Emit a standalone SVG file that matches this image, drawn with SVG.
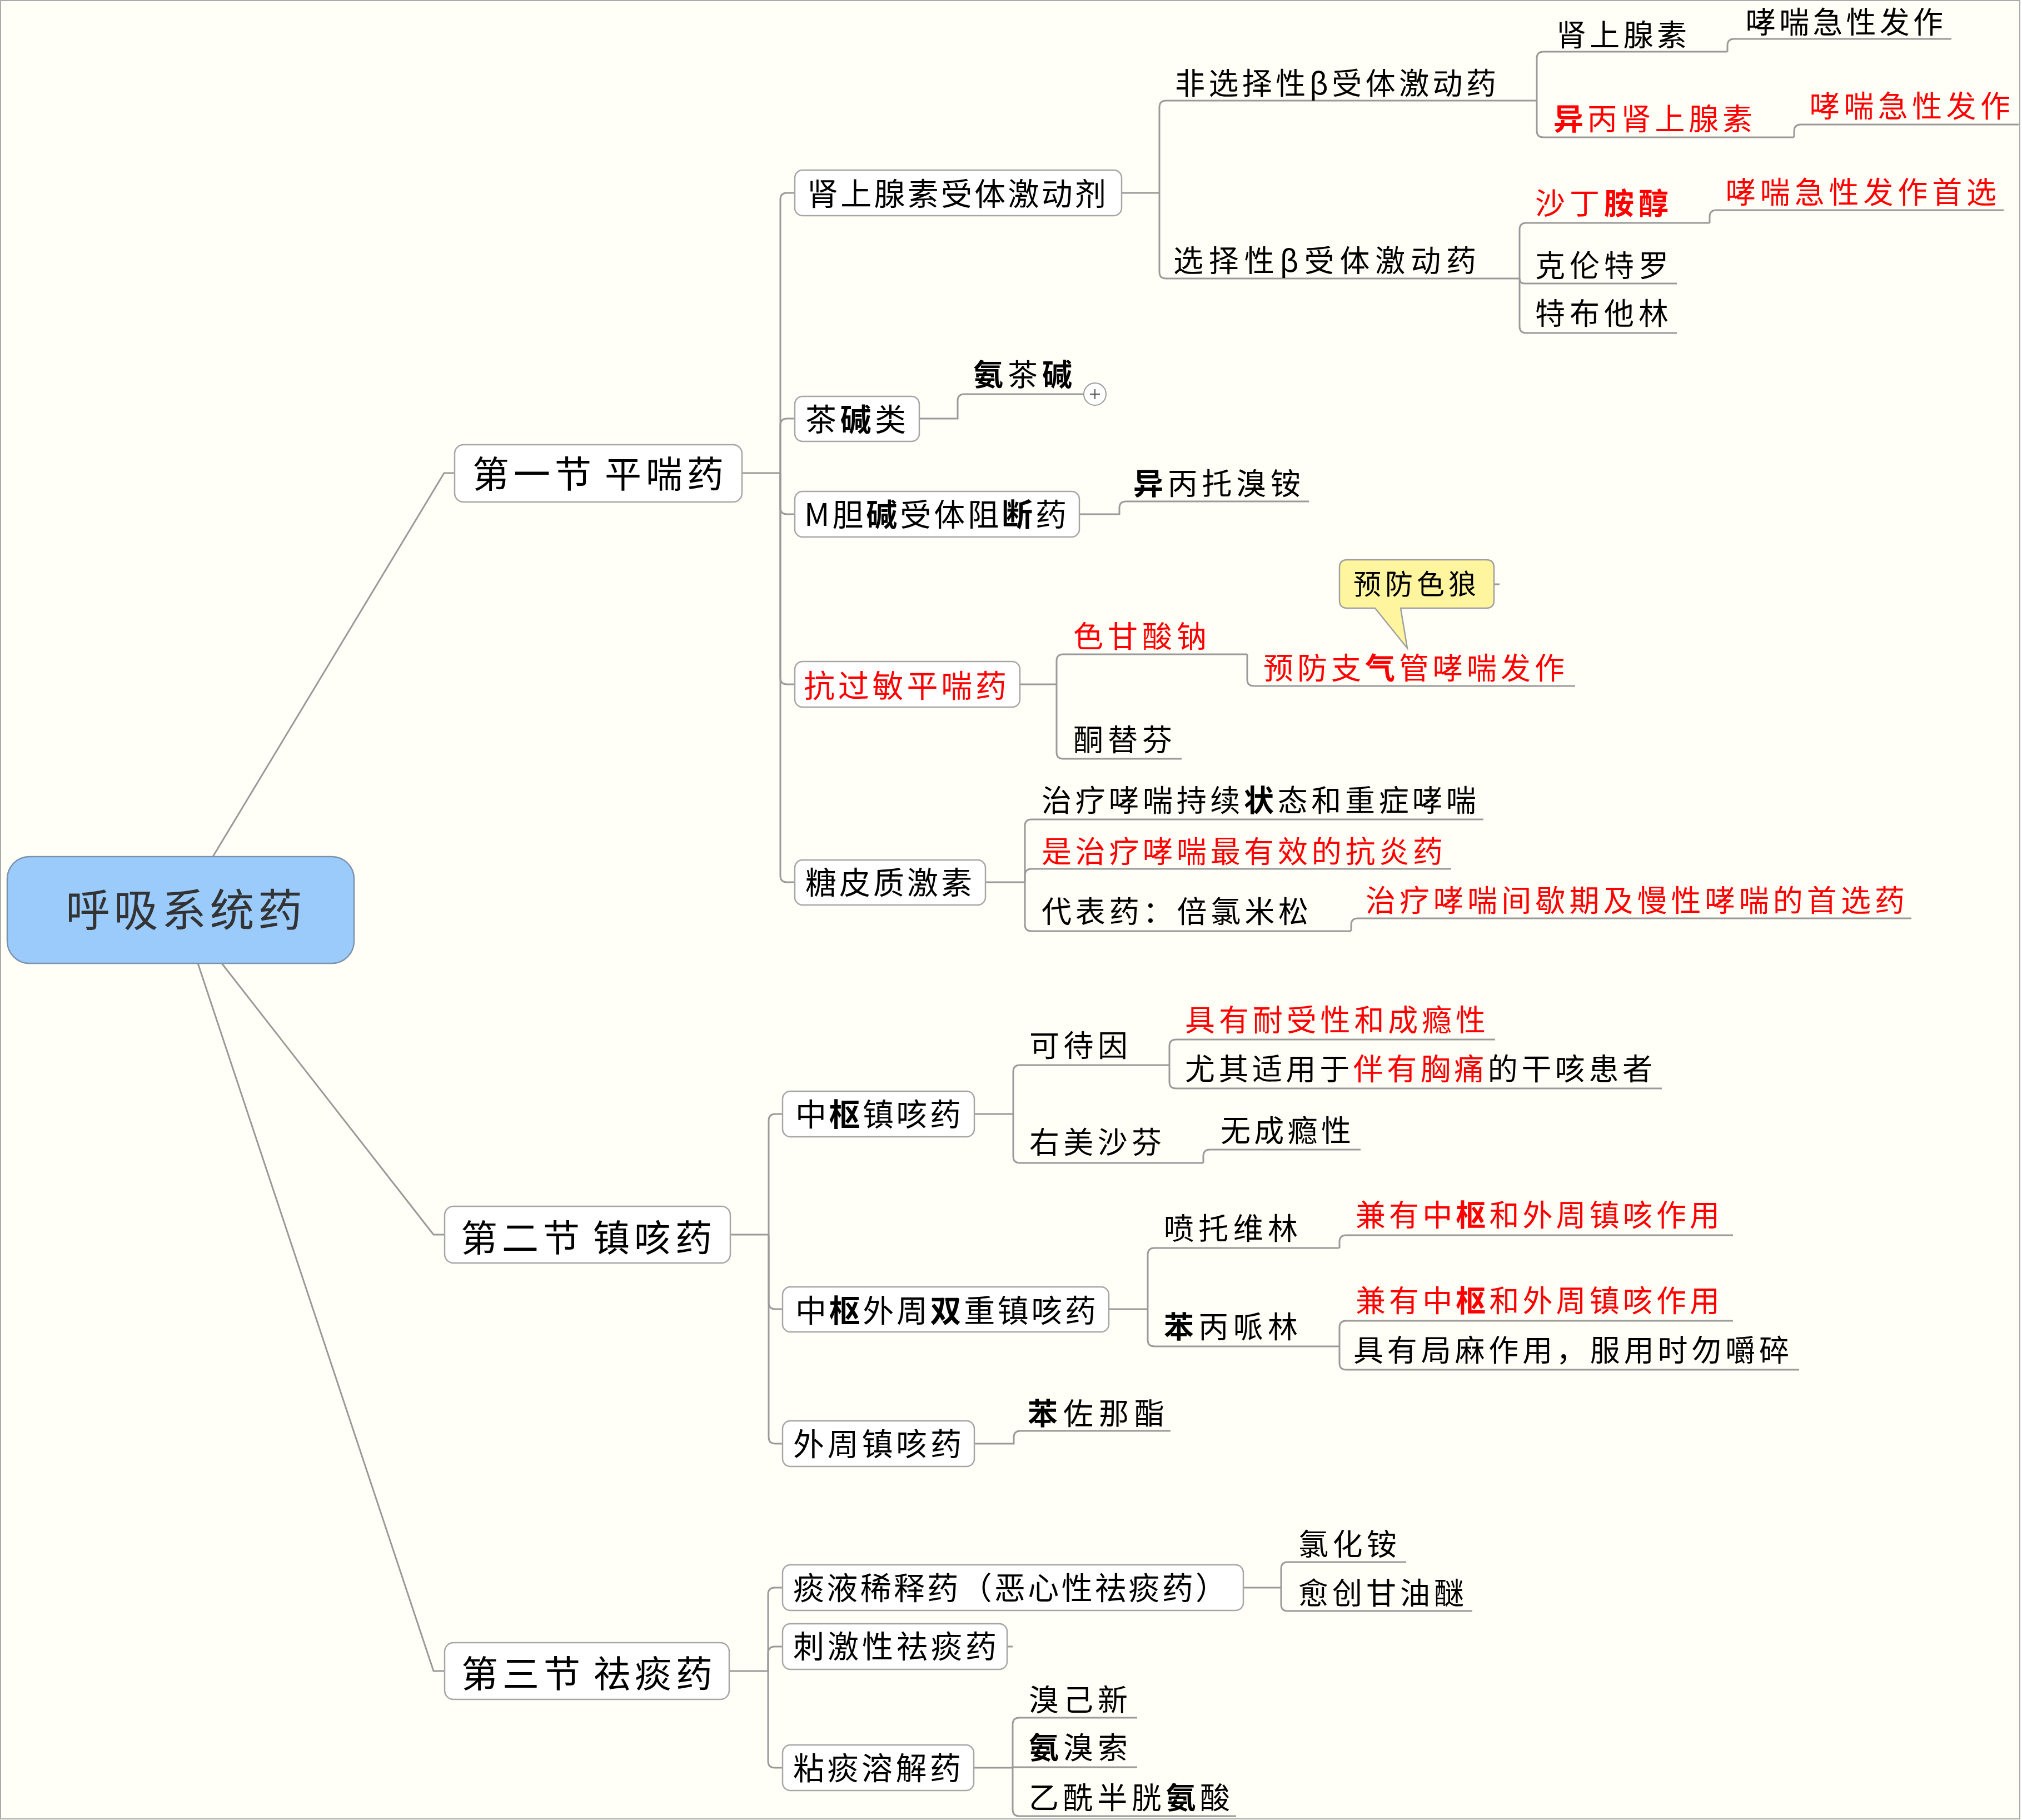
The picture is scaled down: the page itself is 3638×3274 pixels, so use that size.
<svg xmlns="http://www.w3.org/2000/svg" width="3638" height="3274" viewBox="0 0 3638 3274">
<style>
text{font-family:"Noto Sans CJK SC","Liberation Sans",sans-serif;fill:#000}
.s0{font-size:80px;fill:#333}
.s1{font-size:66px;letter-spacing:8px}
.s2{font-size:56px}
.s3{font-size:54px}
.r{fill:#f00}
.b{font-weight:700}
.box{fill:#fff;stroke:#a6a6a6;stroke-width:2.5}
.con path{fill:none;stroke:#9a9a9a;stroke-width:3}
</style>
<rect x="0" y="0" width="3638" height="3274" fill="#fff"/>
<rect x="1" y="1" width="3633" height="3271" fill="#fffef7" stroke="#aaa" stroke-width="2"/>

<g id="connectors" class="con">
<path d="M383,1541 L799,851 H818"/>
<path d="M399,1733 L780,2221 H800"/>
<path d="M356,1733 L780,3006 H800"/>
<path d="M1335,851 H1404"/>
<path d="M1404,851 V359 Q1404,347 1416,347 H1430"/>
<path d="M1404,851 V765 Q1404,753 1416,753 H1430"/>
<path d="M1404,851 V913 Q1404,925 1416,925 H1430"/>
<path d="M1404,851 V1219 Q1404,1231 1416,1231 H1430"/>
<path d="M1404,851 V1575 Q1404,1587 1416,1587 H1430"/>
<path d="M2018,347 H2086"/>
<path d="M2086,347 V193 Q2086,181 2098,181 H2765"/>
<path d="M2086,347 V489 Q2086,501 2098,501 H2734"/>
<path d="M2765,181 V105 Q2765,93 2777,93 H3108"/>
<path d="M2765,181 V235 Q2765,247 2777,247 H3228"/>
<path d="M3108,93 V82 Q3108,70 3120,70 H3511"/>
<path d="M3228,247 V236 Q3228,224 3240,224 H3632"/>
<path d="M2734,501 V413 Q2734,401 2746,401 H3076"/>
<path d="M2734,501 Q2734,510 2743,510 H3017"/>
<path d="M2734,501 V587 Q2734,599 2746,599 H3017"/>
<path d="M3076,401 V390 Q3076,378 3088,378 H3605"/>
<path d="M1654,753 H1723 V721 Q1723,709 1735,709 H1949"/>
<path d="M1942,925 H2014 V914 Q2014,902 2026,902 H2355"/>
<path d="M1835,1231 H1901"/>
<path d="M1901,1231 V1189 Q1901,1177 1913,1177 H2244"/>
<path d="M1901,1231 V1353 Q1901,1365 1913,1365 H2126"/>
<path d="M2244,1177 V1222 Q2244,1234 2256,1234 H2834"/>
<path d="M1773,1587 H1844"/>
<path d="M1844,1587 V1486 Q1844,1474 1856,1474 H2669"/>
<path d="M1844,1587 V1575 Q1844,1563 1856,1563 H2611"/>
<path d="M1844,1587 V1663 Q1844,1675 1856,1675 H2431"/>
<path d="M2431,1675 V1664 Q2431,1652 2443,1652 H3439"/>
<path d="M1314,2221 H1383"/>
<path d="M1383,2221 V2016 Q1383,2004 1395,2004 H1408"/>
<path d="M1383,2221 V2343 Q1383,2355 1395,2355 H1408"/>
<path d="M1383,2221 V2585 Q1383,2597 1395,2597 H1408"/>
<path d="M1753,2004 H1823"/>
<path d="M1823,2004 V1928 Q1823,1916 1835,1916 H2104"/>
<path d="M1823,2004 V2080 Q1823,2092 1835,2092 H2165"/>
<path d="M2104,1916 V1882 Q2104,1870 2116,1870 H2690"/>
<path d="M2104,1916 V1946 Q2104,1958 2116,1958 H2990"/>
<path d="M2165,2092 V2080 Q2165,2068 2177,2068 H2448"/>
<path d="M1995,2355 H2065"/>
<path d="M2065,2355 V2257 Q2065,2245 2077,2245 H2410"/>
<path d="M2065,2355 V2410 Q2065,2422 2077,2422 H2410"/>
<path d="M2410,2245 V2234 Q2410,2222 2422,2222 H3118"/>
<path d="M2410,2422 V2388 Q2410,2376 2422,2376 H3118"/>
<path d="M2410,2422 V2452 Q2410,2464 2422,2464 H3237"/>
<path d="M1753,2597 H1824 V2586 Q1824,2574 1836,2574 H2106"/>
<path d="M1312,3006 H1382"/>
<path d="M1382,3006 V2868 Q1382,2856 1394,2856 H1408"/>
<path d="M1382,3006 V2974 Q1382,2962 1394,2962 H1408"/>
<path d="M1382,3006 V3168 Q1382,3180 1394,3180 H1408"/>
<path d="M1812,2962 H1822"/>
<path d="M2237,2856 H2305"/>
<path d="M2305,2856 V2822 Q2305,2810 2317,2810 H2530"/>
<path d="M2305,2856 V2886 Q2305,2898 2317,2898 H2649"/>
<path d="M1752,3180 H1822"/>
<path d="M1822,3180 V3102 Q1822,3090 1834,3090 H2046"/>
<path d="M1822,3180 V3179 H2046"/>
<path d="M1822,3180 V3255 Q1822,3267 1834,3267 H2224"/>
<path d="M2688,1051 H2698"/>
</g>

<g id="n0"><rect x="13" y="1541" width="624" height="192" rx="40" fill="#9acbfb" stroke="#7d93ad" stroke-width="2.5"/><text class="s0" x="118" y="1666" textLength="426" lengthAdjust="spacing">呼吸系统药</text></g>

<g id="n1"><rect class="box" x="818" y="800" width="517" height="103" rx="16"/><text class="s1" x="850" y="877">第一节<tspan dx="16">平喘药</tspan></text></g>
<g id="n2"><rect class="box" x="800" y="2170" width="514" height="102" rx="16"/><text class="s1" x="829" y="2251">第二节<tspan dx="16">镇咳药</tspan></text></g>
<g id="n3"><rect class="box" x="800" y="2955" width="512" height="102" rx="16"/><text class="s1" x="830" y="3035">第三节<tspan dx="16">祛痰药</tspan></text></g>

<g id="n1a"><rect class="box" x="1430" y="306" width="588" height="82" rx="14"/><text class="s2" x="1452" y="369" textLength="538" lengthAdjust="spacing">肾上腺素受体激动剂</text></g>
<g id="n1a1"><text class="s3" x="2114" y="170" textLength="578" lengthAdjust="spacing">非选择性β受体激动药</text></g>
<g id="n1a1a"><text class="s3" x="2800" y="83" textLength="235" lengthAdjust="spacing">肾上腺素</text></g>
<g id="n1a1a1"><text class="s3" x="3141" y="60" textLength="355" lengthAdjust="spacing">哮喘急性发作</text></g>
<g id="n1a1b"><text class="s3 r" x="2795" y="234" textLength="358" lengthAdjust="spacing"><tspan class="b r">异</tspan>丙肾上腺素</text></g>
<g id="n1a1b1"><text class="s3 r" x="3256" y="211" textLength="361" lengthAdjust="spacing">哮喘急性发作</text></g>
<g id="n1a2"><text class="s3" x="2111" y="489" textLength="545" lengthAdjust="spacing">选择性β受体激动药</text></g>
<g id="n1a2a"><text class="s3 r" x="2762" y="386" textLength="240" lengthAdjust="spacing">沙丁<tspan class="b r">胺醇</tspan></text></g>
<g id="n1a2a1"><text class="s3 r" x="3105" y="366" textLength="487" lengthAdjust="spacing">哮喘急性发作首选</text></g>
<g id="n1a2b"><text class="s3" x="2762" y="498" textLength="240" lengthAdjust="spacing">克伦特罗</text></g>
<g id="n1a2c"><text class="s3" x="2762" y="584" textLength="240" lengthAdjust="spacing">特布他林</text></g>

<g id="n1b"><rect class="box" x="1430" y="713" width="224" height="81" rx="14"/><text class="s2" x="1449" y="775" textLength="181" lengthAdjust="spacing">茶<tspan class="b">碱</tspan>类</text></g>
<g id="n1b1"><text class="s3" x="1751" y="694" textLength="178" lengthAdjust="spacing"><tspan class="b">氨</tspan>茶<tspan class="b">碱</tspan></text>
<circle cx="1970" cy="709" r="20" fill="#fff" stroke="#999" stroke-width="2"/><path d="M1961,709 H1979 M1970,700 V718" stroke="#555" stroke-width="2"/></g>

<g id="n1c"><rect class="box" x="1430" y="884" width="512" height="82" rx="14"/><text class="s2" x="1447" y="946" textLength="472" lengthAdjust="spacing">M胆<tspan class="b">碱</tspan>受体阻<tspan class="b">断</tspan>药</text></g>
<g id="n1c1"><text class="s3" x="2039" y="890" textLength="301" lengthAdjust="spacing"><tspan class="b">异</tspan>丙托溴铵</text></g>

<g id="n1d"><rect class="box" x="1430" y="1190" width="405" height="82" rx="14"/><text class="s2 r" x="1446" y="1254" textLength="365" lengthAdjust="spacing">抗过敏平喘药</text></g>
<g id="n1d1"><text class="s3 r" x="1931" y="1165" textLength="240" lengthAdjust="spacing">色甘酸钠</text></g>
<g id="n1d1a"><text class="s3 r" x="2273" y="1222" textLength="542" lengthAdjust="spacing">预防支<tspan class="b r">气</tspan>管哮喘发作</text></g>
<g id="callout"><path d="M2424,1007 H2674 Q2688,1007 2688,1021 V1080 Q2688,1094 2674,1094 H2520 L2532,1166 L2474,1094 H2424 Q2410,1094 2410,1080 V1021 Q2410,1007 2424,1007 Z" fill="#fef59e" stroke="#a0a0a0" stroke-width="2.5"/><text x="2435" y="1069" font-size="50" textLength="221" lengthAdjust="spacing">预防色狼</text></g>
<g id="n1d2"><text class="s3" x="1931" y="1351" textLength="178" lengthAdjust="spacing">酮替芬</text></g>

<g id="n1e"><rect class="box" x="1430" y="1547" width="343" height="81" rx="14"/><text class="s2" x="1449" y="1608" textLength="300" lengthAdjust="spacing">糖皮质激素</text></g>
<g id="n1e1"><text class="s3" x="1874" y="1460" textLength="782" lengthAdjust="spacing">治疗哮喘持续<tspan class="b">状</tspan>态和重症哮喘</text></g>
<g id="n1e2"><text class="s3 r" x="1874" y="1552" textLength="722" lengthAdjust="spacing">是治疗哮喘最有效的抗炎药</text></g>
<g id="n1e3"><text class="s3" x="1874" y="1660" textLength="480" lengthAdjust="spacing">代表药：倍氯米松</text></g>
<g id="n1e3a"><text class="s3 r" x="2457" y="1640" textLength="970" lengthAdjust="spacing">治疗哮喘间歇期及慢性哮喘的首选药</text></g>

<g id="n2a"><rect class="box" x="1408" y="1963" width="345" height="82" rx="14"/><text class="s2" x="1431" y="2025" textLength="298" lengthAdjust="spacing">中<tspan class="b">枢</tspan>镇咳药</text></g>
<g id="n2a1"><text class="s3" x="1852" y="1901" textLength="177" lengthAdjust="spacing">可待因</text></g>
<g id="n2a1a"><text class="s3 r" x="2132" y="1855" textLength="541" lengthAdjust="spacing">具有耐受性和成瘾性</text></g>
<g id="n2a1b"><text class="s3" x="2132" y="1943" textLength="841" lengthAdjust="spacing">尤其适用于<tspan class="r">伴有胸痛</tspan>的干咳患者</text></g>
<g id="n2a2"><text class="s3" x="1852" y="2075" textLength="238" lengthAdjust="spacing">右美沙芬</text></g>
<g id="n2a2a"><text class="s3" x="2196" y="2054" textLength="235" lengthAdjust="spacing">无成瘾性</text></g>

<g id="n2b"><rect class="box" x="1408" y="2315" width="587" height="81" rx="14"/><text class="s2" x="1431" y="2378" textLength="541" lengthAdjust="spacing">中<tspan class="b">枢</tspan>外周<tspan class="b">双</tspan>重镇咳药</text></g>
<g id="n2b1"><text class="s3" x="2094" y="2230" textLength="241" lengthAdjust="spacing">喷托维林</text></g>
<g id="n2b1a"><text class="s3 r" x="2439" y="2206" textLength="655" lengthAdjust="spacing">兼有中<tspan class="b r">枢</tspan>和外周镇咳作用</text></g>
<g id="n2b2"><text class="s3" x="2094" y="2407" textLength="241" lengthAdjust="spacing"><tspan class="b">苯</tspan>丙哌林</text></g>
<g id="n2b2a"><text class="s3 r" x="2439" y="2360" textLength="655" lengthAdjust="spacing">兼有中<tspan class="b r">枢</tspan>和外周镇咳作用</text></g>
<g id="n2b2b"><text class="s3" x="2435" y="2449" textLength="784" lengthAdjust="spacing">具有局麻作用，服用时勿嚼碎</text></g>

<g id="n2c"><rect class="box" x="1408" y="2556" width="345" height="82" rx="14"/><text class="s2" x="1427" y="2618" textLength="303" lengthAdjust="spacing">外周镇咳药</text></g>
<g id="n2c1"><text class="s3" x="1849" y="2563" textLength="246" lengthAdjust="spacing"><tspan class="b">苯</tspan>佐那酯</text></g>

<g id="n3a"><rect class="box" x="1408" y="2815" width="829" height="82" rx="14"/><text class="s2" x="1427" y="2877" textLength="780" lengthAdjust="spacing">痰液稀释药（恶心性祛痰药）</text></g>
<g id="n3a1"><text class="s3" x="2336" y="2798" textLength="177" lengthAdjust="spacing">氯化铵</text></g>
<g id="n3a2"><text class="s3" x="2336" y="2886" textLength="298" lengthAdjust="spacing">愈创甘油醚</text></g>
<g id="n3b"><rect class="box" x="1408" y="2921" width="404" height="82" rx="14"/><text class="s2" x="1427" y="2982" textLength="366" lengthAdjust="spacing">刺激性祛痰药</text></g>
<g id="n3c"><rect class="box" x="1408" y="3139" width="344" height="82" rx="14"/><text class="s2" x="1427" y="3201" textLength="302" lengthAdjust="spacing">粘痰溶解药</text></g>
<g id="n3c1"><text class="s3" x="1851" y="3078" textLength="178" lengthAdjust="spacing">溴己新</text></g>
<g id="n3c2"><text class="s3" x="1851" y="3164" textLength="178" lengthAdjust="spacing"><tspan class="b">氨</tspan>溴索</text></g>
<g id="n3c3"><text class="s3" x="1851" y="3254" textLength="362" lengthAdjust="spacing">乙酰半胱<tspan class="b">氨</tspan>酸</text></g>
</svg>
